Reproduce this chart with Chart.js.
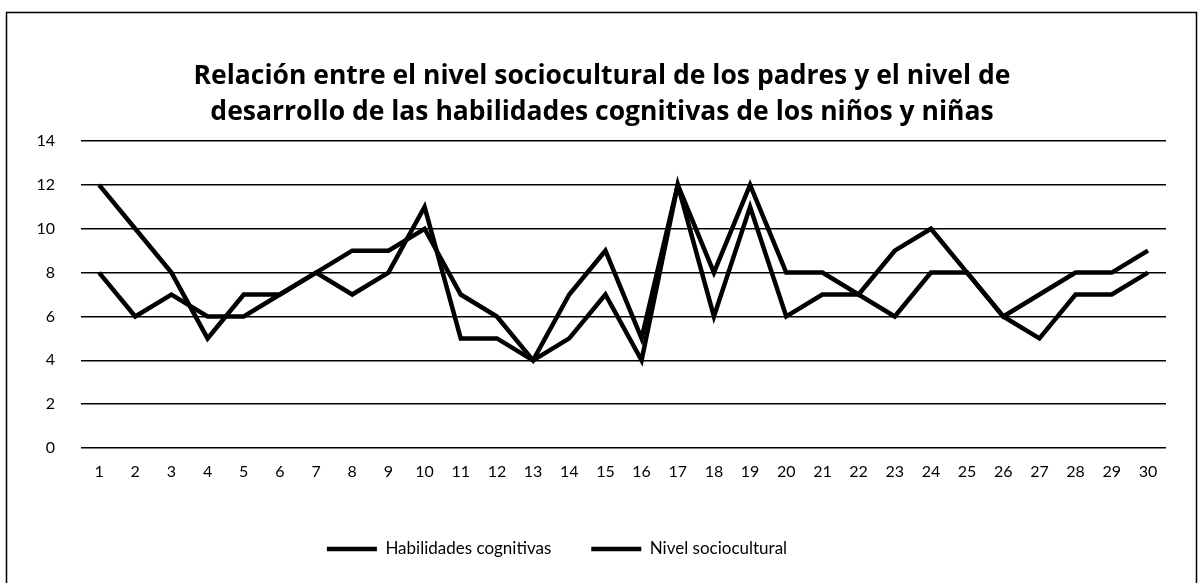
<!DOCTYPE html>
<html>
<head>
<meta charset="utf-8">
<script src="https://cdn.jsdelivr.net/npm/chart.js@4/dist/chart.umd.min.js"></script>
<style>
  html, body { margin: 0; padding: 0; background: #fff; }
  #wrap { width: 1201px; height: 583px; position: relative; }
</style>
</head>
<body>
<div id="wrap"><canvas id="c" width="1201" height="583"></canvas></div>
<script>
const categories = ['1','2','3','4','5','6','7','8','9','10','11','12','13','14','15','16','17','18','19','20','21','22','23','24','25','26','27','28','29','30'];
const habilidades = [12,10,8,5,7,7,8,9,9,10,7,6,4,7,9,5,12,8,12,8,8,7,9,10,8,6,7,8,8,9];
const nivel = [8,6,7,6,6,7,8,7,8,11,5,5,4,5,7,4,12,6,11,6,7,7,6,8,8,6,5,7,7,8];
const titleLines = ['Relación entre el nivel sociocultural de los padres y el nivel de', 'desarrollo de las habilidades cognitivas de los niños y niñas'];
const seriesNames = ['Habilidades cognitivas', 'Nivel sociocultural'];

const FONT = 'Lato, "Open Sans", sans-serif';
const TITLE_FONT = '"Open Sans", Lato, sans-serif';

const borderPlugin = {
  id: 'outerBorder',
  afterLayout(chart) {
    if (chart.legend) {
      chart.legend.left -= 36;
      chart.legend.right -= 36;
    }
    if (chart.titleBlock) {
      chart.titleBlock.left += 9;
      chart.titleBlock.right += 9;
    }
  },
  afterDraw(chart) {
    const ctx = chart.ctx;
    ctx.save();
    ctx.strokeStyle = '#000';
    ctx.lineWidth = 1.5;
    ctx.strokeRect(6.5, 12.5, 1190, 620);
    ctx.restore();
  }
};

new Chart(document.getElementById('c'), {
  type: 'line',
  data: {
    labels: categories,
    datasets: [
      { label: seriesNames[0], data: habilidades, borderColor: '#000', backgroundColor: '#000', borderWidth: 4.5, pointRadius: 0, tension: 0, fill: false },
      { label: seriesNames[1], data: nivel, borderColor: '#000', backgroundColor: '#000', borderWidth: 4.5, pointRadius: 0, tension: 0, fill: false }
    ]
  },
  options: {
    responsive: false,
    animation: false,
    layout: { padding: { left: 20, right: 35, top: 0, bottom: 15.5 } },
    plugins: {
      title: {
        display: true,
        text: titleLines,
        color: '#000',
        font: { family: TITLE_FONT, size: 26.5, weight: 'bold', lineHeight: 1.36 },
        padding: { top: 58, bottom: 11 }
      },
      legend: {
        position: 'bottom',
        labels: {
          color: '#000',
          font: { family: FONT, size: 17 },
          usePointStyle: true,
          pointStyle: 'line',
          pointStyleWidth: 50,
          boxHeight: 17,
          padding: 40
        }
      },
      tooltip: { enabled: false }
    },
    scales: {
      x: {
        offset: true,
        grid: { display: false, drawTicks: false },
        border: { display: false },
        ticks: { color: '#000', font: { family: FONT, size: 16 }, padding: 14, maxRotation: 0, autoSkip: false },
        afterFit(scale) { scale.height = 52.5; }
      },
      y: {
        min: 0, max: 14,
        grid: { color: '#000', lineWidth: 1.6, drawTicks: false },
        border: { display: false },
        ticks: { stepSize: 2, color: '#000', font: { family: FONT, size: 16 }, padding: 26 },
        afterFit(scale) { scale.width = 61; }
      }
    }
  },
  plugins: [borderPlugin]
});
</script>
</body>
</html>
